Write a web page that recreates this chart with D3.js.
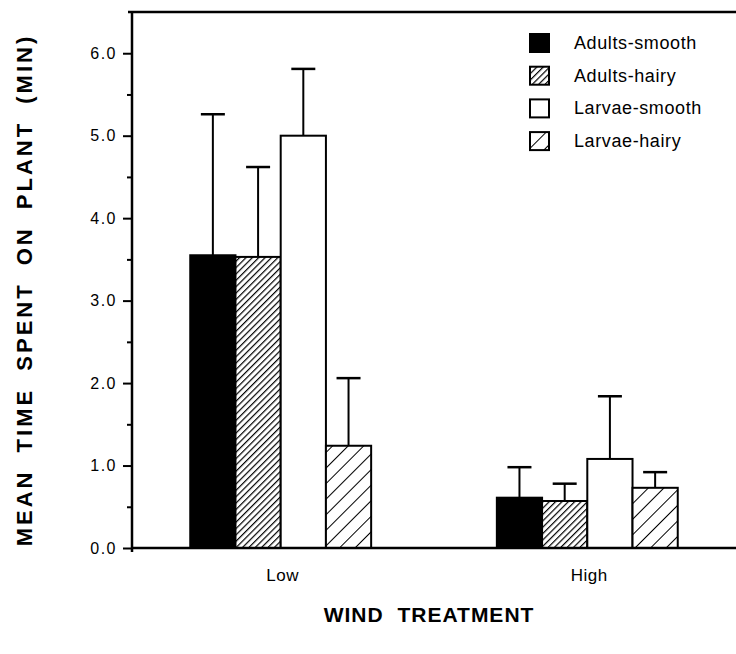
<!DOCTYPE html>
<html>
<head>
<meta charset="utf-8">
<script src="https://cdn.jsdelivr.net/npm/d3@7"></script>
<style>
  html, body { margin: 0; padding: 0; background: #fff; }
  svg { display: block; font-family: "Liberation Sans", Arial, Helvetica, sans-serif; }
</style>
</head>
<body>
<svg id="chart" width="736" height="654"></svg>
<script>
// wind treatment groups (x categories)
const groups = ["Low", "High"];

// the four bar series, in legend order
const seriesNames = ["Adults-smooth", "Adults-hairy", "Larvae-smooth", "Larvae-hairy"];

// mean time spent on plant (min), one value per series
const meanLow = [3.55, 3.53, 5.0, 1.24];
const meanHigh = [0.61, 0.57, 1.08, 0.73];

// upper error bar length (min)
const errLow = [1.71, 1.09, 0.81, 0.82];
const errHigh = [0.37, 0.21, 0.76, 0.19];

// y axis ticks
const yTicks = [0, 1, 2, 3, 4, 5, 6];
const yMinorTicks = [0.5, 1.5, 2.5, 3.5, 4.5, 5.5];

const svg = d3.select("#chart");

const margins = { top: 12, left: 132, right: 0, bottom: 106 };
const width = 736, height = 654;

// fill for each series (black, dense hatch, white, sparse hatch)
const fills = ["#000", "url(#hatchDense)", "#fff", "url(#hatchSparse)"];

// hatch patterns
const defs = svg.append("defs");

defs.append("pattern")
  .attr("id", "hatchDense")
  .attr("patternUnits", "userSpaceOnUse")
  .attr("width", 4.5).attr("height", 4.5)
  .attr("patternTransform", "rotate(45)")
  .call(p => {
    p.append("rect").attr("width", 4.5).attr("height", 4.5).attr("fill", "#fff");
    p.append("line").attr("x1", 0).attr("y1", 0).attr("x2", 0).attr("y2", 4.5)
      .attr("stroke", "#000").attr("stroke-width", 2.4);
  });

defs.append("pattern")
  .attr("id", "hatchSparse")
  .attr("patternUnits", "userSpaceOnUse")
  .attr("width", 11).attr("height", 11)
  .attr("patternTransform", "rotate(45)")
  .call(p => {
    p.append("rect").attr("width", 11).attr("height", 11).attr("fill", "#fff");
    p.append("line").attr("x1", 0).attr("y1", 0).attr("x2", 0).attr("y2", 11)
      .attr("stroke", "#000").attr("stroke-width", 2);
  });

// scales
const y = d3.scaleLinear()
  .domain([0, 6.5])
  .range([height - margins.bottom, margins.top]);

const x = d3.scaleBand()
  .domain(groups)
  .range([margins.left, width - margins.right])
  .paddingInner(0.41)
  .paddingOuter(0.19);

const xs = d3.scaleBand()
  .domain(seriesNames)
  .range([0, x.bandwidth()]);

// flatten into one record per bar
const means = { Low: meanLow, High: meanHigh };
const errs = { Low: errLow, High: errHigh };
const data = groups.flatMap(g =>
  seriesNames.map((s, i) => ({ group: g, series: s, i, mean: means[g][i], err: errs[g][i] }))
);

// bars
svg.append("g")
  .selectAll("rect")
  .data(data)
  .join("rect")
  .attr("x", d => x(d.group) + xs(d.series))
  .attr("y", d => y(d.mean))
  .attr("width", xs.bandwidth())
  .attr("height", d => y(0) - y(d.mean))
  .attr("fill", d => fills[d.i])
  .attr("stroke", "#000")
  .attr("stroke-width", 2);

// error bars (upper only)
const eb = svg.append("g")
  .attr("stroke", "#000")
  .attr("stroke-width", 2)
  .selectAll("g")
  .data(data)
  .join("g")
  .attr("transform", d => `translate(${x(d.group) + xs(d.series) + xs.bandwidth() / 2},0)`);

eb.append("line")
  .attr("y1", d => y(d.mean))
  .attr("y2", d => y(d.mean + d.err));

eb.append("line")
  .attr("x1", -12).attr("x2", 12)
  .attr("y1", d => y(d.mean + d.err))
  .attr("y2", d => y(d.mean + d.err))
  .attr("stroke-width", 2.5);

// y axis with major and minor ticks
const yAxis = svg.append("g")
  .attr("transform", `translate(${margins.left},0)`)
  .call(d3.axisLeft(y).tickValues(yTicks).tickSize(9).tickPadding(6).tickFormat(d3.format(".1f")));

yAxis.select(".domain").remove();
yAxis.selectAll("line").attr("stroke-width", 2);
yAxis.selectAll("text")
  .attr("font-size", 16)
  .attr("letter-spacing", 1.5)
  .attr("fill", "#000");

svg.append("g")
  .attr("transform", `translate(${margins.left},0)`)
  .call(d3.axisLeft(y).tickValues(yMinorTicks).tickSize(5).tickFormat(""))
  .call(a => a.select(".domain").remove())
  .selectAll("line").attr("stroke-width", 2);

// frame: left axis line, top line, baseline
svg.append("line")
  .attr("x1", margins.left).attr("x2", margins.left)
  .attr("y1", y(6.5)).attr("y2", y(0) + 4)
  .attr("stroke", "#000").attr("stroke-width", 2.5);

svg.append("line")
  .attr("x1", margins.left - 4).attr("x2", width)
  .attr("y1", y(6.5)).attr("y2", y(6.5))
  .attr("stroke", "#000").attr("stroke-width", 2.5);

svg.append("line")
  .attr("x1", margins.left).attr("x2", width)
  .attr("y1", y(0)).attr("y2", y(0))
  .attr("stroke", "#000").attr("stroke-width", 2.5);

// group labels under the bars
svg.append("g")
  .selectAll("text")
  .data(groups)
  .join("text")
  .attr("x", d => x(d) + x.bandwidth() / 2 + 2)
  .attr("y", y(0) + 33)
  .attr("text-anchor", "middle")
  .attr("font-size", 17)
  .attr("letter-spacing", 0.5)
  .text(d => d);

// axis titles
svg.append("text")
  .attr("transform", `translate(32,${(y(0) + y(6.5)) / 2 + 10}) rotate(-90)`)
  .attr("text-anchor", "middle")
  .attr("font-size", 22)
  .attr("font-weight", 700)
  .attr("letter-spacing", 3)
  .attr("word-spacing", 8)
  .text("MEAN TIME SPENT ON PLANT (MIN)");

svg.append("text")
  .attr("x", 429)
  .attr("y", 622)
  .attr("text-anchor", "middle")
  .attr("font-size", 21)
  .attr("font-weight", 700)
  .attr("letter-spacing", 1)
  .attr("word-spacing", 7)
  .text("WIND TREATMENT");

// legend
const legend = svg.append("g")
  .attr("transform", "translate(530,34)")
  .selectAll("g")
  .data(seriesNames)
  .join("g")
  .attr("transform", (d, i) => `translate(0,${i * 32.7})`);

legend.append("rect")
  .attr("width", 19).attr("height", 18)
  .attr("fill", (d, i) => fills[i])
  .attr("stroke", "#000")
  .attr("stroke-width", 2);

legend.append("text")
  .attr("x", 44)
  .attr("y", 15)
  .attr("font-size", 18)
  .attr("letter-spacing", 0.6)
  .text(d => d);
</script>
</body>
</html>
